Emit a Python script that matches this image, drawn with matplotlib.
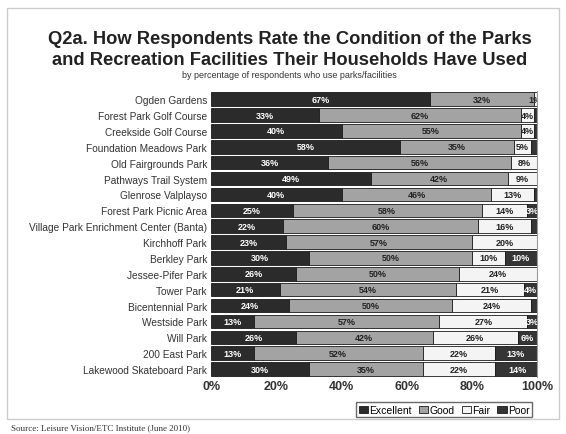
import matplotlib.pyplot as plt
import numpy as np

plt.rcParams["font.family"] = ["Liberation Sans", "DejaVu Sans"]

parks = ["Ogden Gardens", "Forest Park Golf Course", "Creekside Golf Course",
         "Foundation Meadows Park", "Old Fairgrounds Park", "Pathways Trail System",
         "Glenrose Valplayso", "Forest Park Picnic Area",
         "Village Park Enrichment Center (Banta)", "Kirchhoff Park", "Berkley Park",
         "Jessee-Pifer Park", "Tower Park", "Bicentennial Park", "Westside Park",
         "Will Park", "200 East Park", "Lakewood Skateboard Park"]
excellent = [67, 33, 40, 58, 36, 49, 40, 25, 22, 23, 30, 26, 21, 24, 13, 26, 13, 30]
good      = [32, 62, 55, 35, 56, 42, 46, 58, 60, 57, 50, 50, 54, 50, 57, 42, 52, 35]
fair      = [1, 4, 4, 5, 8, 9, 13, 14, 16, 20, 10, 24, 21, 24, 27, 26, 22, 22]
poor      = [0, 1, 1, 2, 0, 0, 1, 3, 2, 0, 10, 0, 4, 2, 3, 6, 13, 14]

series = [("Excellent", excellent, "#2b2b2b", "white"),
          ("Good", good, "#a3a3a3", "#222222"),
          ("Fair", fair, "#f4f4f4", "#222222"),
          ("Poor", poor, "#353535", "white")]

fig = plt.figure(figsize=(5.66, 4.35), dpi=100)
ax = fig.add_axes([0.373, 0.131, 0.576, 0.657])

y = np.arange(len(parks))
left = np.zeros(len(parks))
for name, vals, col, tcol in series:
    vals = np.array(vals, dtype=float)
    ax.barh(y, vals, left=left, height=0.85, color=col, edgecolor="#1a1a1a",
            linewidth=0.6, label=name)
    for i, (l, v) in enumerate(zip(left, vals)):
        # slivers of "Poor" are too thin for a label
        if v <= 0 or (v < 3 and name == "Poor"):
            continue
        ax.text(l + v / 2, i, f"{int(v)}%", ha="center", va="center",
                fontsize=6.5, fontweight="bold", color=tcol, clip_on=True)
    left += vals

ax.set_xlim(0, 100)
ax.set_ylim(len(parks) - 0.5, -0.5)
ax.set_yticks(y)
ax.set_yticklabels(parks, fontsize=7.3, color="#333333")
ax.set_xticks([0, 20, 40, 60, 80, 100])
ax.set_xticklabels([f"{t}%" for t in range(0, 101, 20)], fontsize=9, fontweight="bold",
                   color="#333333")
ax.tick_params(length=0, pad=3)
ax.tick_params(axis="x", pad=2)
for s in ["top", "bottom", "left"]:
    ax.spines[s].set_visible(False)
ax.spines["right"].set_color("#999999")

leg = ax.legend(loc="upper right", bbox_to_anchor=(1.0, -0.07), ncol=4, fontsize=7.5,
                frameon=True, fancybox=False, edgecolor="#444444", handlelength=0.9,
                handleheight=0.7, handletextpad=0.1, columnspacing=0.7,
                borderpad=0.25)

fig.text(0.512, 0.885, "Q2a. How Respondents Rate the Condition of the Parks\n"
         "and Recreation Facilities Their Households Have Used",
         ha="center", va="center", fontsize=13.2, fontweight="bold", color="#222222",
         linespacing=1.25)
fig.text(0.512, 0.826, "by percentage of respondents who use parks/facilities",
         ha="center", va="center", fontsize=6.5, color="#333333")
fig.text(0.02, 0.01, "Source: Leisure Vision/ETC Institute (June 2010)", fontsize=6.5,
         family="Liberation Serif", color="#333333")

fig.add_artist(plt.Rectangle((0.012, 0.035), 0.975, 0.945, transform=fig.transFigure,
                             fill=False, edgecolor="#cccccc", linewidth=1))

fig.savefig("out.png", dpi=100)
